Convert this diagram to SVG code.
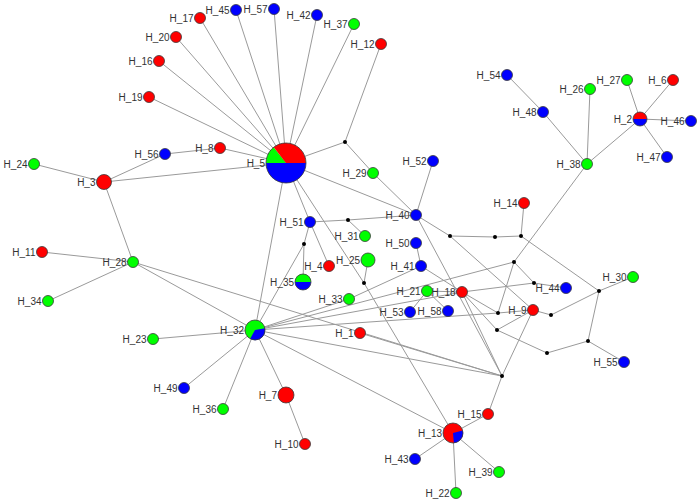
<svg xmlns="http://www.w3.org/2000/svg" width="700" height="502" viewBox="0 0 700 502">
<style>
.e line{stroke:#9a9a9a;stroke-width:1}
.n{stroke:#3a3a3a;stroke-width:0.8}
.r{fill:#ff0000}.g{fill:#00ff00}.b{fill:#0000ff}
.j{fill:#000}
.o{fill:none;stroke:#3a3a3a;stroke-width:0.8}
.p{stroke:none}
text{font-family:"Liberation Sans",Arial,sans-serif;font-size:10px;fill:#333;text-anchor:end}
</style>
<rect width="700" height="502" fill="#fff"/>
<g id="connectors" class="e">
<line x1="286" y1="163" x2="200" y2="18"/>
<line x1="286" y1="163" x2="176" y2="37"/>
<line x1="286" y1="163" x2="159" y2="61"/>
<line x1="286" y1="163" x2="149" y2="97"/>
<line x1="286" y1="163" x2="236" y2="10"/>
<line x1="286" y1="163" x2="274" y2="9"/>
<line x1="286" y1="163" x2="317" y2="15"/>
<line x1="286" y1="163" x2="354" y2="24"/>
<line x1="286" y1="163" x2="220" y2="148"/>
<line x1="286" y1="163" x2="104" y2="182"/>
<line x1="286" y1="163" x2="345" y2="142"/>
<line x1="286" y1="163" x2="416" y2="215"/>
<line x1="286" y1="163" x2="310" y2="222"/>
<line x1="286" y1="163" x2="255" y2="330"/>
<line x1="286" y1="163" x2="364" y2="283"/>
<line x1="104" y1="182" x2="34" y2="164"/>
<line x1="104" y1="182" x2="133" y2="262"/>
<line x1="104" y1="182" x2="165" y2="154"/>
<line x1="165" y1="154" x2="220" y2="148"/>
<line x1="345" y1="142" x2="381" y2="44"/>
<line x1="345" y1="142" x2="373" y2="173"/>
<line x1="373" y1="173" x2="416" y2="215"/>
<line x1="416" y1="215" x2="433" y2="161"/>
<line x1="416" y1="215" x2="348" y2="220"/>
<line x1="416" y1="215" x2="450" y2="236"/>
<line x1="416" y1="215" x2="502" y2="376"/>
<line x1="348" y1="220" x2="310" y2="222"/>
<line x1="348" y1="220" x2="365" y2="236"/>
<line x1="310" y1="222" x2="329" y2="266"/>
<line x1="310" y1="222" x2="304" y2="244"/>
<line x1="304" y1="244" x2="303" y2="282"/>
<line x1="304" y1="244" x2="255" y2="330"/>
<line x1="364" y1="283" x2="368" y2="260"/>
<line x1="364" y1="283" x2="453" y2="433"/>
<line x1="416" y1="243" x2="421" y2="266"/>
<line x1="421" y1="266" x2="349" y2="299"/>
<line x1="421" y1="266" x2="462" y2="292"/>
<line x1="255" y1="330" x2="349" y2="299"/>
<line x1="255" y1="330" x2="153" y2="339"/>
<line x1="255" y1="330" x2="184" y2="388"/>
<line x1="255" y1="330" x2="223" y2="409"/>
<line x1="255" y1="330" x2="286" y2="395"/>
<line x1="255" y1="330" x2="133" y2="262"/>
<line x1="255" y1="330" x2="514" y2="262"/>
<line x1="255" y1="330" x2="462" y2="292"/>
<line x1="255" y1="330" x2="498" y2="313"/>
<line x1="255" y1="330" x2="502" y2="376"/>
<line x1="255" y1="330" x2="453" y2="433"/>
<line x1="286" y1="395" x2="305" y2="444"/>
<line x1="133" y1="262" x2="42" y2="252"/>
<line x1="133" y1="262" x2="48" y2="301"/>
<line x1="133" y1="262" x2="502" y2="376"/>
<line x1="360" y1="333" x2="502" y2="376"/>
<line x1="427" y1="291" x2="410" y2="312"/>
<line x1="427" y1="291" x2="448" y2="311"/>
<line x1="427" y1="291" x2="462" y2="292"/>
<line x1="462" y1="292" x2="534" y2="283"/>
<line x1="462" y1="292" x2="498" y2="313"/>
<line x1="462" y1="292" x2="497" y2="330"/>
<line x1="462" y1="292" x2="502" y2="376"/>
<line x1="514" y1="262" x2="534" y2="283"/>
<line x1="514" y1="262" x2="587" y2="164"/>
<line x1="514" y1="262" x2="498" y2="313"/>
<line x1="534" y1="283" x2="566" y2="288"/>
<line x1="498" y1="313" x2="533" y2="310"/>
<line x1="497" y1="330" x2="533" y2="310"/>
<line x1="497" y1="330" x2="547" y2="353"/>
<line x1="551" y1="315" x2="533" y2="310"/>
<line x1="551" y1="315" x2="599" y2="291"/>
<line x1="599" y1="291" x2="633" y2="277"/>
<line x1="599" y1="291" x2="588" y2="341"/>
<line x1="599" y1="291" x2="521" y2="236"/>
<line x1="588" y1="341" x2="624" y2="362"/>
<line x1="588" y1="341" x2="547" y2="353"/>
<line x1="450" y1="236" x2="495" y2="237"/>
<line x1="495" y1="237" x2="521" y2="236"/>
<line x1="521" y1="236" x2="524" y2="203"/>
<line x1="450" y1="236" x2="533" y2="310"/>
<line x1="502" y1="376" x2="533" y2="310"/>
<line x1="502" y1="376" x2="488" y2="414"/>
<line x1="488" y1="414" x2="453" y2="433"/>
<line x1="453" y1="433" x2="415" y2="459"/>
<line x1="453" y1="433" x2="456" y2="493"/>
<line x1="453" y1="433" x2="499" y2="472"/>
<line x1="587" y1="164" x2="543" y2="112"/>
<line x1="543" y1="112" x2="507" y2="75"/>
<line x1="587" y1="164" x2="590" y2="89"/>
<line x1="587" y1="164" x2="640" y2="119"/>
<line x1="640" y1="119" x2="627" y2="80"/>
<line x1="640" y1="119" x2="673" y2="80"/>
<line x1="640" y1="119" x2="691" y2="121"/>
<line x1="640" y1="119" x2="667" y2="157"/>
</g>
<g id="junctions">
<circle class="j" cx="345" cy="142" r="2"/>
<circle class="j" cx="348" cy="220" r="2"/>
<circle class="j" cx="304" cy="244" r="2"/>
<circle class="j" cx="364" cy="283" r="2"/>
<circle class="j" cx="450" cy="236" r="2"/>
<circle class="j" cx="495" cy="237" r="2"/>
<circle class="j" cx="521" cy="236" r="2"/>
<circle class="j" cx="514" cy="262" r="2"/>
<circle class="j" cx="534" cy="283" r="2"/>
<circle class="j" cx="498" cy="313" r="2"/>
<circle class="j" cx="497" cy="330" r="2"/>
<circle class="j" cx="551" cy="315" r="2"/>
<circle class="j" cx="599" cy="291" r="2"/>
<circle class="j" cx="588" cy="341" r="2"/>
<circle class="j" cx="547" cy="353" r="2"/>
<circle class="j" cx="502" cy="376" r="2"/>
</g>
<g id="H_1"><circle class="n r" cx="360" cy="333" r="5.5"/><text x="353.5" y="336.5">H_1</text></g>
<g id="H_2"><path class="p r" d="M633,119 A7,7 0 0 1 647,119 Z"/><path class="p b" d="M647,119 A7,7 0 0 1 633,119 Z"/><circle class="o" cx="640" cy="119" r="7"/><text x="632" y="122.5">H_2</text></g>
<g id="H_3"><circle class="n r" cx="104" cy="182" r="7.5"/><text x="95.5" y="185.5">H_3</text></g>
<g id="H_4"><circle class="n r" cx="329" cy="266" r="5.5"/><text x="322.5" y="269.5">H_4</text></g>
<g id="H_5"><text x="265" y="166.5">H_5</text><path class="p b" d="M286,163 L306,163 A20,20 0 0 1 266,163 Z"/><path class="p g" d="M286,163 L266,163 A20,20 0 0 1 273.7,147.2 Z"/><path class="p r" d="M286,163 L273.7,147.2 A20,20 0 0 1 306,163 Z"/><circle class="o" cx="286" cy="163" r="20"/></g>
<g id="H_6"><circle class="n r" cx="673" cy="80" r="5.5"/><text x="666.5" y="83.5">H_6</text></g>
<g id="H_7"><circle class="n r" cx="286" cy="395" r="8"/><text x="277" y="398.5">H_7</text></g>
<g id="H_8"><circle class="n r" cx="220" cy="148" r="5.5"/><text x="213.5" y="151.5">H_8</text></g>
<g id="H_9"><circle class="n r" cx="533" cy="310" r="5.5"/><text x="526.5" y="313.5">H_9</text></g>
<g id="H_10"><circle class="n r" cx="305" cy="444" r="5.5"/><text x="298.5" y="447.5">H_10</text></g>
<g id="H_11"><circle class="n r" cx="42" cy="252" r="5.5"/><text x="35.5" y="255.5">H_11</text></g>
<g id="H_12"><circle class="n r" cx="381" cy="44" r="5.5"/><text x="374.5" y="47.5">H_12</text></g>
<g id="H_13"><circle class="p r" cx="453" cy="433" r="10"/><path class="p b" d="M453,433 L462.66,430.41 A10,10 0 0 1 453.87,442.96 Z"/><circle class="o" cx="453" cy="433" r="10"/><text x="442" y="436.5">H_13</text></g>
<g id="H_14"><circle class="n r" cx="524" cy="203" r="5.5"/><text x="517.5" y="206.5">H_14</text></g>
<g id="H_15"><circle class="n r" cx="488" cy="414" r="5.5"/><text x="481.5" y="417.5">H_15</text></g>
<g id="H_16"><circle class="n r" cx="159" cy="61" r="5.5"/><text x="152.5" y="64.5">H_16</text></g>
<g id="H_17"><circle class="n r" cx="200" cy="18" r="5.5"/><text x="193.5" y="21.5">H_17</text></g>
<g id="H_18"><circle class="n r" cx="462" cy="292" r="5.5"/><text x="455.5" y="295.5">H_18</text></g>
<g id="H_19"><circle class="n r" cx="149" cy="97" r="5.5"/><text x="142.5" y="100.5">H_19</text></g>
<g id="H_20"><circle class="n r" cx="176" cy="37" r="5.5"/><text x="169.5" y="40.5">H_20</text></g>
<g id="H_21"><circle class="n g" cx="427" cy="291" r="5.5"/><text x="420.5" y="294.5">H_21</text></g>
<g id="H_22"><circle class="n g" cx="456" cy="493" r="5.5"/><text x="449.5" y="496.5">H_22</text></g>
<g id="H_23"><circle class="n g" cx="153" cy="339" r="5.5"/><text x="146.5" y="342.5">H_23</text></g>
<g id="H_24"><circle class="n g" cx="34" cy="164" r="5.5"/><text x="27.5" y="167.5">H_24</text></g>
<g id="H_25"><circle class="n g" cx="368" cy="260" r="7"/><text x="360" y="263.5">H_25</text></g>
<g id="H_26"><circle class="n g" cx="590" cy="89" r="5.5"/><text x="583.5" y="92.5">H_26</text></g>
<g id="H_27"><circle class="n g" cx="627" cy="80" r="5.5"/><text x="620.5" y="83.5">H_27</text></g>
<g id="H_28"><circle class="n g" cx="133" cy="262" r="5.5"/><text x="126.5" y="265.5">H_28</text></g>
<g id="H_29"><circle class="n g" cx="373" cy="173" r="5.5"/><text x="366.5" y="176.5">H_29</text></g>
<g id="H_30"><circle class="n g" cx="633" cy="277" r="5.5"/><text x="626.5" y="280.5">H_30</text></g>
<g id="H_31"><circle class="n g" cx="365" cy="236" r="5.5"/><text x="358.5" y="239.5">H_31</text></g>
<g id="H_32"><circle class="p g" cx="255" cy="330" r="10"/><path class="p b" d="M255,330 L264.85,328.26 A10,10 0 0 1 250.15,338.75 Z"/><circle class="o" cx="255" cy="330" r="10"/><text x="244" y="333.5">H_32</text></g>
<g id="H_33"><circle class="n g" cx="349" cy="299" r="5.5"/><text x="342.5" y="302.5">H_33</text></g>
<g id="H_34"><circle class="n g" cx="48" cy="301" r="5.5"/><text x="41.5" y="304.5">H_34</text></g>
<g id="H_35"><path class="p g" d="M295,282 A8,8 0 0 1 311,282 Z"/><path class="p b" d="M311,282 A8,8 0 0 1 295,282 Z"/><circle class="o" cx="303" cy="282" r="8"/><text x="294" y="285.5">H_35</text></g>
<g id="H_36"><circle class="n g" cx="223" cy="409" r="5.5"/><text x="216.5" y="412.5">H_36</text></g>
<g id="H_37"><circle class="n g" cx="354" cy="24" r="5.5"/><text x="347.5" y="27.5">H_37</text></g>
<g id="H_38"><circle class="n g" cx="587" cy="164" r="5.5"/><text x="580.5" y="167.5">H_38</text></g>
<g id="H_39"><circle class="n g" cx="499" cy="472" r="5.5"/><text x="492.5" y="475.5">H_39</text></g>
<g id="H_40"><circle class="n b" cx="416" cy="215" r="5.5"/><text x="409.5" y="218.5">H_40</text></g>
<g id="H_41"><circle class="n b" cx="421" cy="266" r="5.5"/><text x="414.5" y="269.5">H_41</text></g>
<g id="H_42"><circle class="n b" cx="317" cy="15" r="5.5"/><text x="310.5" y="18.5">H_42</text></g>
<g id="H_43"><circle class="n b" cx="415" cy="459" r="5.5"/><text x="408.5" y="462.5">H_43</text></g>
<g id="H_44"><circle class="n b" cx="566" cy="288" r="5.5"/><text x="559.5" y="291.5">H_44</text></g>
<g id="H_45"><circle class="n b" cx="236" cy="10" r="5.5"/><text x="229.5" y="13.5">H_45</text></g>
<g id="H_46"><circle class="n b" cx="691" cy="121" r="5.5"/><text x="684.5" y="124.5">H_46</text></g>
<g id="H_47"><circle class="n b" cx="667" cy="157" r="5.5"/><text x="660.5" y="160.5">H_47</text></g>
<g id="H_48"><circle class="n b" cx="543" cy="112" r="5.5"/><text x="536.5" y="115.5">H_48</text></g>
<g id="H_49"><circle class="n b" cx="184" cy="388" r="5.5"/><text x="177.5" y="391.5">H_49</text></g>
<g id="H_50"><circle class="n b" cx="416" cy="243" r="5.5"/><text x="409.5" y="246.5">H_50</text></g>
<g id="H_51"><circle class="n b" cx="310" cy="222" r="5.5"/><text x="303.5" y="225.5">H_51</text></g>
<g id="H_52"><circle class="n b" cx="433" cy="161" r="5.5"/><text x="426.5" y="164.5">H_52</text></g>
<g id="H_53"><circle class="n b" cx="410" cy="312" r="5.5"/><text x="403.5" y="315.5">H_53</text></g>
<g id="H_54"><circle class="n b" cx="507" cy="75" r="5.5"/><text x="500.5" y="78.5">H_54</text></g>
<g id="H_55"><circle class="n b" cx="624" cy="362" r="5.5"/><text x="617.5" y="365.5">H_55</text></g>
<g id="H_56"><circle class="n b" cx="165" cy="154" r="5.5"/><text x="158.5" y="157.5">H_56</text></g>
<g id="H_57"><circle class="n b" cx="274" cy="9" r="5.5"/><text x="267.5" y="12.5">H_57</text></g>
<g id="H_58"><circle class="n b" cx="448" cy="311" r="5.5"/><text x="441.5" y="314.5">H_58</text></g>
</svg>
